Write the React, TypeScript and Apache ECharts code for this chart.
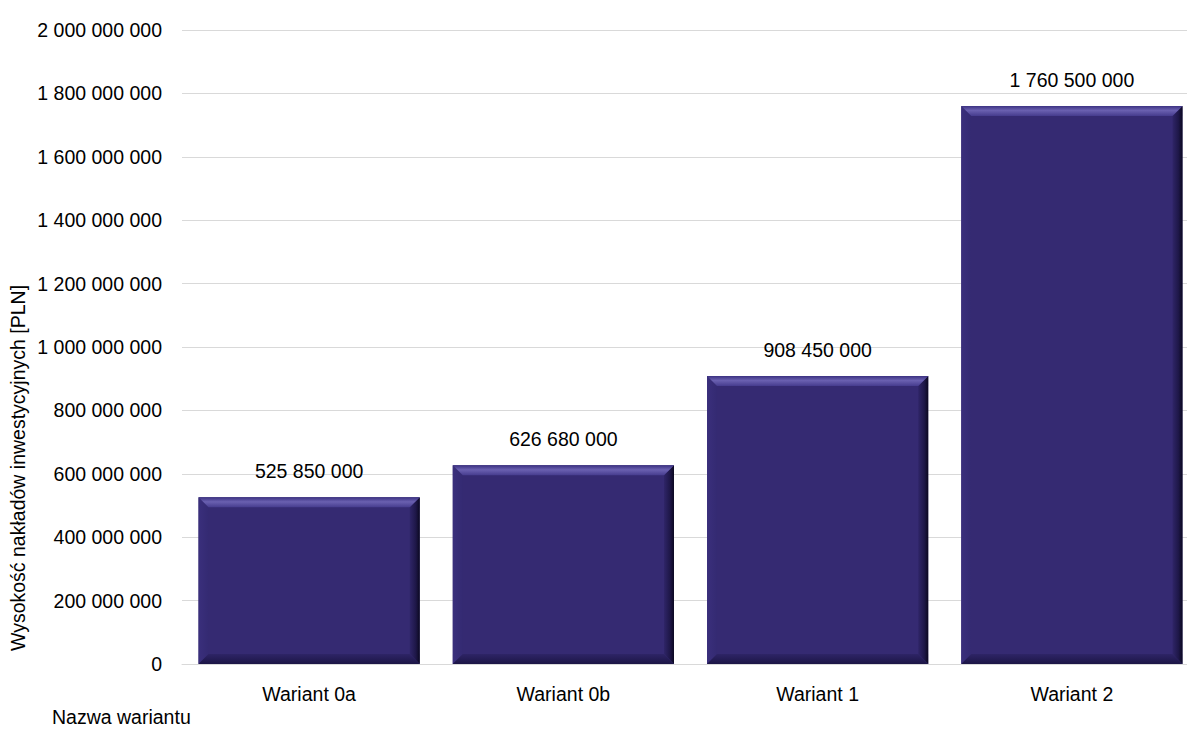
import React, { useEffect, useRef } from "react";
import * as echarts from "echarts";

const categories = ["Wariant 0a", "Wariant 0b", "Wariant 1", "Wariant 2"];
const values = [525850000, 626680000, 908450000, 1760500000];
const yAxisTitle = "Wysokość nakładów inwestycyjnych [PLN]";
const xAxisTitle = "Nazwa wariantu";

const fmt = (v: number) => String(Math.round(v)).replace(/\B(?=(\d{3})+(?!\d))/g, " ");
const FONT = "Liberation Sans, Arial, sans-serif";
const FS = 19.5;
const BASE = "#352a72";

export default function App() {
  const ref = useRef<HTMLDivElement>(null);
  useEffect(() => {
    if (!ref.current) return;
    const chart = echarts.init(ref.current, undefined, { renderer: "svg" });
    const BAR_RATIO = 0.87;
    chart.setOption({
      animation: false,
      grid: { left: 182, width: 1017, top: 30, bottom: 65, outerBoundsMode: "none", containLabel: false },
      xAxis: {
        type: "category",
        data: categories,
        axisLine: { lineStyle: { color: "#d9d9d9" } },
        axisTick: { show: false },
        axisLabel: { color: "#000", fontSize: FS, fontFamily: FONT, margin: 20 },
      },
      yAxis: {
        type: "value",
        min: 0,
        max: 2000000000,
        interval: 200000000,
        axisLine: { show: false },
        axisTick: { show: false },
        splitLine: { lineStyle: { color: "#d9d9d9", width: 1 } },
        axisLabel: { color: "#000", fontSize: FS, fontFamily: FONT, margin: 20, formatter: (v: number) => fmt(v) },
      },
      graphic: [
        {
          type: "text",
          x: 18,
          y: 468,
          rotation: Math.PI / 2,
          style: { text: yAxisTitle, font: `${FS}px ${FONT}`, fill: "#000", textAlign: "center", textVerticalAlign: "middle" },
        },
        {
          type: "text",
          left: 52,
          top: 707,
          style: { text: xAxisTitle, font: `${FS}px ${FONT}`, fill: "#000" },
        },
      ],
      series: [
        {
          type: "bar",
          data: values,
          barWidth: "87%",
          itemStyle: { color: BASE },
          label: {
            show: true,
            position: "top",
            distance: 16,
            color: "#000",
            fontSize: FS,
            fontFamily: FONT,
            formatter: (p: any) => fmt(p.value),
          },
          z: 2,
        },
        {
          type: "custom",
          data: values.map((v, i) => [i, v]),
          z: 3,
          silent: true,
          renderItem: (params: any, api: any) => {
            const idx = api.value(0);
            const top = api.coord([idx, api.value(1)]);
            const bot = api.coord([idx, 0]);
            const w = api.size([1, 0])[0] * BAR_RATIO;
            const x0 = top[0] - w / 2;
            const x1 = top[0] + w / 2;
            const y0 = top[1];
            const y1 = bot[1];
            const b = 10;
            const lg = (a: number, c: number, d: number, e: number, stops: [number, string][]) => ({
              type: "linear", x: a, y: c, x2: d, y2: e,
              colorStops: stops.map(([o, col]) => ({ offset: o, color: col })),
            });
            return {
              type: "group",
              children: [
                {
                  type: "polygon",
                  shape: { points: [[x0, y0], [x0 + b, y0 + b], [x0 + b, y1 - b], [x0, y1]] },
                  style: { fill: lg(0, 0, 1, 0, [[0, "#3a2f7c"], [1, "#342a72"]]) },
                },
                {
                  type: "polygon",
                  shape: { points: [[x1, y0], [x1 - b, y0 + b], [x1 - b, y1 - b], [x1, y1]] },
                  style: { fill: lg(0, 0, 1, 0, [[0, "#2f2568"], [0.6, "#1e1748"], [1, "#0b0820"]]) },
                },
                {
                  type: "polygon",
                  shape: { points: [[x0, y1], [x0 + b, y1 - b], [x1 - b, y1 - b], [x1, y1]] },
                  style: { fill: lg(0, 0, 0, 1, [[0, "#2e2466"], [1, "#1c1546"]]) },
                },
                {
                  type: "polygon",
                  shape: { points: [[x0, y0], [x1, y0], [x1 - b, y0 + b], [x0 + b, y0 + b]] },
                  style: { fill: lg(0, 0, 0, 1, [[0, "#3c3282"], [0.45, "#6a60b0"], [1, "#463c8e"]]) },
                },
              ],
            };
          },
        },
      ],
    });
    return () => chart.dispose();
  }, []);
  return <div ref={ref} style={{ width: 1187, height: 729, position: "absolute", left: 0, top: 0, background: "#fff" }} />;
}
